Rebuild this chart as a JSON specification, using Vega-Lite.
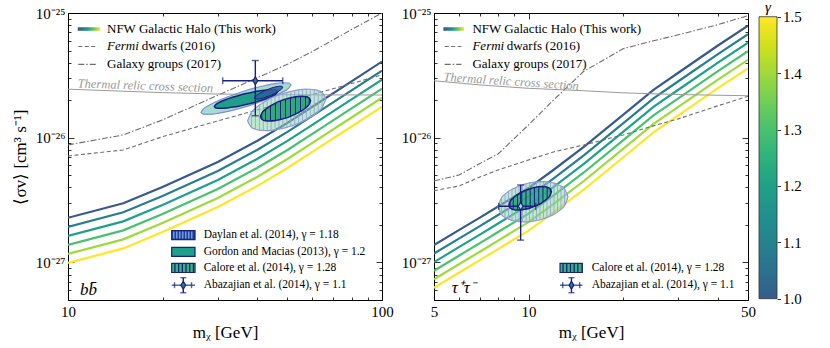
{
"$schema": "https://vega.github.io/schema/vega-lite/v6.json",
"padding": {"left": 11, "top": 0, "right": 2, "bottom": 2},
"background": "white",
"config": {
  "font": "Liberation Serif",
  "view": {"stroke": null},
  "axis": {"grid": false, "domainColor": "#000", "domainWidth": 1, "tickColor": "#000", "tickWidth": 0.8, "labelColor": "#000", "labelFont": "Liberation Serif", "labelFontSize": 15, "titleFont": "Liberation Serif", "titleFontSize": 17, "titleFontWeight": "normal", "titleColor": "#000", "labelFlush": false, "labelOverlap": false}
},
"datasets": {
  "linesL": [
    {"m":10,"sv":2.28e-27,"g":1.0},{"m":15,"sv":2.98e-27,"g":1.0},{"m":20,"sv":4.03e-27,"g":1.0},{"m":30,"sv":6.40e-27,"g":1.0},{"m":40,"sv":9.42e-27,"g":1.0},{"m":50,"sv":1.315e-26,"g":1.0},{"m":60,"sv":1.77e-26,"g":1.0},{"m":80,"sv":2.83e-26,"g":1.0},{"m":100,"sv":4.08e-26,"g":1.0},
    {"m":10,"sv":1.930e-27,"g":1.1},{"m":15,"sv":2.523e-27,"g":1.1},{"m":20,"sv":3.412e-27,"g":1.1},{"m":30,"sv":5.418e-27,"g":1.1},{"m":40,"sv":7.975e-27,"g":1.1},{"m":50,"sv":1.113e-26,"g":1.1},{"m":60,"sv":1.498e-26,"g":1.1},{"m":80,"sv":2.396e-26,"g":1.1},{"m":100,"sv":3.454e-26,"g":1.1},
    {"m":10,"sv":1.634e-27,"g":1.2},{"m":15,"sv":2.136e-27,"g":1.2},{"m":20,"sv":2.888e-27,"g":1.2},{"m":30,"sv":4.587e-27,"g":1.2},{"m":40,"sv":6.751e-27,"g":1.2},{"m":50,"sv":9.425e-27,"g":1.2},{"m":60,"sv":1.269e-26,"g":1.2},{"m":80,"sv":2.028e-26,"g":1.2},{"m":100,"sv":2.924e-26,"g":1.2},
    {"m":10,"sv":1.383e-27,"g":1.3},{"m":15,"sv":1.808e-27,"g":1.3},{"m":20,"sv":2.445e-27,"g":1.3},{"m":30,"sv":3.883e-27,"g":1.3},{"m":40,"sv":5.715e-27,"g":1.3},{"m":50,"sv":7.978e-27,"g":1.3},{"m":60,"sv":1.074e-26,"g":1.3},{"m":80,"sv":1.717e-26,"g":1.3},{"m":100,"sv":2.475e-26,"g":1.3},
    {"m":10,"sv":1.171e-27,"g":1.4},{"m":15,"sv":1.531e-27,"g":1.4},{"m":20,"sv":2.070e-27,"g":1.4},{"m":30,"sv":3.287e-27,"g":1.4},{"m":40,"sv":4.838e-27,"g":1.4},{"m":50,"sv":6.754e-27,"g":1.4},{"m":60,"sv":9.091e-27,"g":1.4},{"m":80,"sv":1.453e-26,"g":1.4},{"m":100,"sv":2.095e-26,"g":1.4},
    {"m":10,"sv":9.91e-28,"g":1.5},{"m":15,"sv":1.296e-27,"g":1.5},{"m":20,"sv":1.752e-27,"g":1.5},{"m":30,"sv":2.783e-27,"g":1.5},{"m":40,"sv":4.096e-27,"g":1.5},{"m":50,"sv":5.718e-27,"g":1.5},{"m":60,"sv":7.696e-27,"g":1.5},{"m":80,"sv":1.230e-26,"g":1.5},{"m":100,"sv":1.774e-26,"g":1.5}
  ],
  "linesR": [
    {"m":5,"sv":1.377e-27,"g":1.0},{"m":6,"sv":1.817e-27,"g":1.0},{"m":7,"sv":2.29e-27,"g":1.0},{"m":8,"sv":2.81e-27,"g":1.0},{"m":10,"sv":3.95e-27,"g":1.0},{"m":12,"sv":5.51e-27,"g":1.0},{"m":15,"sv":8.44e-27,"g":1.0},{"m":20,"sv":1.525e-26,"g":1.0},{"m":25,"sv":2.42e-26,"g":1.0},{"m":30,"sv":3.32e-26,"g":1.0},{"m":40,"sv":5.46e-26,"g":1.0},{"m":50,"sv":7.91e-26,"g":1.0},
    {"m":5,"sv":1.177e-27,"g":1.1},{"m":6,"sv":1.552e-27,"g":1.1},{"m":7,"sv":1.957e-27,"g":1.1},{"m":8,"sv":2.401e-27,"g":1.1},{"m":10,"sv":3.375e-27,"g":1.1},{"m":12,"sv":4.708e-27,"g":1.1},{"m":15,"sv":7.211e-27,"g":1.1},{"m":20,"sv":1.303e-26,"g":1.1},{"m":25,"sv":2.068e-26,"g":1.1},{"m":30,"sv":2.837e-26,"g":1.1},{"m":40,"sv":4.665e-26,"g":1.1},{"m":50,"sv":6.758e-26,"g":1.1},
    {"m":5,"sv":1.005e-27,"g":1.2},{"m":6,"sv":1.326e-27,"g":1.2},{"m":7,"sv":1.672e-27,"g":1.2},{"m":8,"sv":2.051e-27,"g":1.2},{"m":10,"sv":2.884e-27,"g":1.2},{"m":12,"sv":4.022e-27,"g":1.2},{"m":15,"sv":6.161e-27,"g":1.2},{"m":20,"sv":1.113e-26,"g":1.2},{"m":25,"sv":1.767e-26,"g":1.2},{"m":30,"sv":2.424e-26,"g":1.2},{"m":40,"sv":3.986e-26,"g":1.2},{"m":50,"sv":5.774e-26,"g":1.2},
    {"m":5,"sv":8.59e-28,"g":1.3},{"m":6,"sv":1.133e-27,"g":1.3},{"m":7,"sv":1.428e-27,"g":1.3},{"m":8,"sv":1.753e-27,"g":1.3},{"m":10,"sv":2.464e-27,"g":1.3},{"m":12,"sv":3.437e-27,"g":1.3},{"m":15,"sv":5.264e-27,"g":1.3},{"m":20,"sv":9.511e-27,"g":1.3},{"m":25,"sv":1.509e-26,"g":1.3},{"m":30,"sv":2.071e-26,"g":1.3},{"m":40,"sv":3.405e-26,"g":1.3},{"m":50,"sv":4.933e-26,"g":1.3},
    {"m":5,"sv":7.34e-28,"g":1.4},{"m":6,"sv":9.68e-28,"g":1.4},{"m":7,"sv":1.220e-27,"g":1.4},{"m":8,"sv":1.497e-27,"g":1.4},{"m":10,"sv":2.105e-27,"g":1.4},{"m":12,"sv":2.936e-27,"g":1.4},{"m":15,"sv":4.498e-27,"g":1.4},{"m":20,"sv":8.127e-27,"g":1.4},{"m":25,"sv":1.290e-26,"g":1.4},{"m":30,"sv":1.769e-26,"g":1.4},{"m":40,"sv":2.910e-26,"g":1.4},{"m":50,"sv":4.215e-26,"g":1.4},
    {"m":5,"sv":6.27e-28,"g":1.5},{"m":6,"sv":8.27e-28,"g":1.5},{"m":7,"sv":1.043e-27,"g":1.5},{"m":8,"sv":1.279e-27,"g":1.5},{"m":10,"sv":1.798e-27,"g":1.5},{"m":12,"sv":2.509e-27,"g":1.5},{"m":15,"sv":3.843e-27,"g":1.5},{"m":20,"sv":6.943e-27,"g":1.5},{"m":25,"sv":1.102e-26,"g":1.5},{"m":30,"sv":1.512e-26,"g":1.5},{"m":40,"sv":2.486e-26,"g":1.5},{"m":50,"sv":3.601e-26,"g":1.5}
  ],
  "refL": [
    {"c":"fermi","m":10,"sv":7.14e-27},{"c":"fermi","m":15,"sv":7.98e-27},{"c":"fermi","m":20,"sv":1.019e-26},{"c":"fermi","m":30,"sv":1.365e-26},{"c":"fermi","m":40,"sv":1.67e-26},{"c":"fermi","m":50,"sv":1.95e-26},{"c":"fermi","m":60,"sv":2.22e-26},{"c":"fermi","m":80,"sv":2.72e-26},{"c":"fermi","m":100,"sv":3.19e-26},
    {"c":"gg","m":10,"sv":8.75e-27},{"c":"gg","m":15,"sv":1.053e-26},{"c":"gg","m":20,"sv":1.39e-26},{"c":"gg","m":30,"sv":2.19e-26},{"c":"gg","m":40,"sv":3.02e-26},{"c":"gg","m":50,"sv":3.88e-26},{"c":"gg","m":60,"sv":4.91e-26},{"c":"gg","m":80,"sv":7.37e-26},{"c":"gg","m":100,"sv":1.0e-25},
    {"c":"th","m":10,"sv":2.45e-26},{"c":"th","m":15,"sv":2.36e-26},{"c":"th","m":20,"sv":2.30e-26},{"c":"th","m":30,"sv":2.24e-26},{"c":"th","m":50,"sv":2.21e-26},{"c":"th","m":100,"sv":2.20e-26}
  ],
  "refR": [
    {"c":"fermi","m":5,"sv":3.76e-27},{"c":"fermi","m":6,"sv":4.10e-27},{"c":"fermi","m":7,"sv":4.84e-27},{"c":"fermi","m":8,"sv":5.51e-27},{"c":"fermi","m":10,"sv":6.64e-27},{"c":"fermi","m":12,"sv":7.69e-27},{"c":"fermi","m":15,"sv":8.75e-27},{"c":"fermi","m":20,"sv":1.053e-26},{"c":"fermi","m":25,"sv":1.245e-26},{"c":"fermi","m":30,"sv":1.416e-26},{"c":"fermi","m":40,"sv":1.80e-26},{"c":"fermi","m":50,"sv":2.15e-26},
    {"c":"gg","m":5,"sv":4.50e-27},{"c":"gg","m":6,"sv":5.02e-27},{"c":"gg","m":7,"sv":6.21e-27},{"c":"gg","m":8,"sv":7.41e-27},{"c":"gg","m":10,"sv":1.268e-26},{"c":"gg","m":12,"sv":2.00e-26},{"c":"gg","m":15,"sv":3.41e-26},{"c":"gg","m":20,"sv":5.17e-26},{"c":"gg","m":25,"sv":5.99e-26},{"c":"gg","m":30,"sv":6.69e-26},{"c":"gg","m":40,"sv":8.05e-26},{"c":"gg","m":50,"sv":9.51e-26},
    {"c":"th","m":5,"sv":2.86e-26},{"c":"th","m":7,"sv":2.65e-26},{"c":"th","m":10,"sv":2.49e-26},{"c":"th","m":15,"sv":2.38e-26},{"c":"th","m":20,"sv":2.29e-26},{"c":"th","m":30,"sv":2.22e-26},{"c":"th","m":50,"sv":2.17e-26}
  ],
  "ellL": [
    {"e":"CO","m":37.33,"hi":1.3642e-26,"lo":1.3642e-26},{"e":"CO","m":38.42,"hi":1.6032e-26,"lo":1.2092e-26},{"e":"CO","m":39.54,"hi":1.7254e-26,"lo":1.1701e-26},{"e":"CO","m":40.69,"hi":1.8272e-26,"lo":1.1508e-26},{"e":"CO","m":41.88,"hi":1.9173e-26,"lo":1.1423e-26},{"e":"CO","m":43.10,"hi":1.9989e-26,"lo":1.1411e-26},{"e":"CO","m":44.36,"hi":2.0736e-26,"lo":1.1457e-26},{"e":"CO","m":45.65,"hi":2.1420e-26,"lo":1.1552e-26},{"e":"CO","m":46.98,"hi":2.2044e-26,"lo":1.1691e-26},{"e":"CO","m":48.35,"hi":2.2607e-26,"lo":1.1873e-26},{"e":"CO","m":49.76,"hi":2.3110e-26,"lo":1.2097e-26},{"e":"CO","m":51.21,"hi":2.3547e-26,"lo":1.2366e-26},{"e":"CO","m":52.70,"hi":2.3913e-26,"lo":1.2682e-26},{"e":"CO","m":54.24,"hi":2.4201e-26,"lo":1.3052e-26},{"e":"CO","m":55.82,"hi":2.4401e-26,"lo":1.3481e-26},{"e":"CO","m":57.45,"hi":2.4498e-26,"lo":1.3986e-26},{"e":"CO","m":59.13,"hi":2.4473e-26,"lo":1.4582e-26},{"e":"CO","m":60.85,"hi":2.4292e-26,"lo":1.5300e-26},{"e":"CO","m":62.63,"hi":2.3893e-26,"lo":1.6202e-26},{"e":"CO","m":64.45,"hi":2.3119e-26,"lo":1.7437e-26},{"e":"CO","m":66.33,"hi":2.0492e-26,"lo":2.0492e-26},
    {"e":"CI","m":41.03,"hi":1.4757e-26,"lo":1.4757e-26},{"e":"CI","m":41.40,"hi":1.5705e-26,"lo":1.4073e-26},{"e":"CI","m":42.56,"hi":1.6889e-26,"lo":1.3679e-26},{"e":"CI","m":44.14,"hi":1.8019e-26,"lo":1.3602e-26},{"e":"CI","m":45.80,"hi":1.8944e-26,"lo":1.3729e-26},{"e":"CI","m":47.51,"hi":1.9731e-26,"lo":1.3984e-26},{"e":"CI","m":49.28,"hi":2.0397e-26,"lo":1.4354e-26},{"e":"CI","m":51.12,"hi":2.0936e-26,"lo":1.4838e-26},{"e":"CI","m":53.03,"hi":2.1324e-26,"lo":1.5454e-26},{"e":"CI","m":55.01,"hi":2.1521e-26,"lo":1.6248e-26},{"e":"CI","m":57.07,"hi":2.1401e-26,"lo":1.7332e-26},{"e":"CI","m":58.66,"hi":2.0802e-26,"lo":1.8641e-26},{"e":"CI","m":59.20,"hi":1.9837e-26,"lo":1.9837e-26},
    {"e":"GO","m":26.52,"hi":1.5998e-26,"lo":1.5998e-26},{"e":"GO","m":26.96,"hi":1.6966e-26,"lo":1.5470e-26},{"e":"GO","m":28.33,"hi":1.8390e-26,"lo":1.5400e-26},{"e":"GO","m":30.26,"hi":1.9928e-26,"lo":1.5728e-26},{"e":"GO","m":32.33,"hi":2.1329e-26,"lo":1.6261e-26},{"e":"GO","m":34.53,"hi":2.2648e-26,"lo":1.6948e-26},{"e":"GO","m":36.89,"hi":2.3895e-26,"lo":1.7776e-26},{"e":"GO","m":39.41,"hi":2.5064e-26,"lo":1.8755e-26},{"e":"GO","m":42.10,"hi":2.6121e-26,"lo":1.9916e-26},{"e":"GO","m":44.97,"hi":2.7007e-26,"lo":2.1315e-26},{"e":"GO","m":48.03,"hi":2.7582e-26,"lo":2.3098e-26},{"e":"GO","m":50.47,"hi":2.7457e-26,"lo":2.5035e-26},{"e":"GO","m":51.31,"hi":2.6554e-26,"lo":2.6554e-26},
    {"e":"GI","m":29.24,"hi":1.7776e-26,"lo":1.7776e-26},{"e":"GI","m":29.58,"hi":1.8476e-26,"lo":1.7339e-26},{"e":"GI","m":30.63,"hi":1.9426e-26,"lo":1.7194e-26},{"e":"GI","m":32.09,"hi":2.0383e-26,"lo":1.7320e-26},{"e":"GI","m":33.61,"hi":2.1206e-26,"lo":1.7598e-26},{"e":"GI","m":35.21,"hi":2.1943e-26,"lo":1.7978e-26},{"e":"GI","m":36.89,"hi":2.2607e-26,"lo":1.8445e-26},{"e":"GI","m":38.65,"hi":2.3195e-26,"lo":1.9003e-26},{"e":"GI","m":40.48,"hi":2.3693e-26,"lo":1.9664e-26},{"e":"GI","m":42.41,"hi":2.4073e-26,"lo":2.0457e-26},{"e":"GI","m":44.43,"hi":2.4253e-26,"lo":2.1466e-26},{"e":"GI","m":46.01,"hi":2.4049e-26,"lo":2.2568e-26},{"e":"GI","m":46.54,"hi":2.3459e-26,"lo":2.3459e-26},
    {"e":"D","m":39.21,"hi":2.0762e-26,"lo":2.0762e-26},{"e":"D","m":39.41,"hi":2.1293e-26,"lo":2.0450e-26},{"e":"D","m":40.03,"hi":2.2029e-26,"lo":2.0381e-26},{"e":"D","m":40.87,"hi":2.2774e-26,"lo":2.0532e-26},{"e":"D","m":41.73,"hi":2.3417e-26,"lo":2.0797e-26},{"e":"D","m":42.61,"hi":2.3996e-26,"lo":2.1137e-26},{"e":"D","m":43.51,"hi":2.4523e-26,"lo":2.1544e-26},{"e":"D","m":44.42,"hi":2.4994e-26,"lo":2.2015e-26},{"e":"D","m":45.36,"hi":2.5403e-26,"lo":2.2560e-26},{"e":"D","m":46.32,"hi":2.5730e-26,"lo":2.3199e-26},{"e":"D","m":47.29,"hi":2.5922e-26,"lo":2.3983e-26},{"e":"D","m":48.03,"hi":2.5835e-26,"lo":2.4810e-26},{"e":"D","m":48.28,"hi":2.5447e-26,"lo":2.5447e-26}
  ],
  "ellR": [
    {"e":"CO","m":7.994,"hi":2.7962e-27,"lo":2.7962e-27},{"e":"CO","m":8.202,"hi":3.2998e-27,"lo":2.4137e-27},{"e":"CO","m":8.416,"hi":3.5326e-27,"lo":2.2966e-27},{"e":"CO","m":8.635,"hi":3.7144e-27,"lo":2.2248e-27},{"e":"CO","m":8.859,"hi":3.8660e-27,"lo":2.1776e-27},{"e":"CO","m":9.089,"hi":3.9957e-27,"lo":2.1463e-27},{"e":"CO","m":9.326,"hi":4.1064e-27,"lo":2.1273e-27},{"e":"CO","m":9.568,"hi":4.2006e-27,"lo":2.1184e-27},{"e":"CO","m":9.817,"hi":4.2791e-27,"lo":2.1184e-27},{"e":"CO","m":10.072,"hi":4.3426e-27,"lo":2.1264e-27},{"e":"CO","m":10.334,"hi":4.3907e-27,"lo":2.1423e-27},{"e":"CO","m":10.603,"hi":4.4238e-27,"lo":2.1662e-27},{"e":"CO","m":10.878,"hi":4.4404e-27,"lo":2.1981e-27},{"e":"CO","m":11.161,"hi":4.4404e-27,"lo":2.2392e-27},{"e":"CO","m":11.451,"hi":4.4220e-27,"lo":2.2907e-27},{"e":"CO","m":11.749,"hi":4.3827e-27,"lo":2.3542e-27},{"e":"CO","m":12.055,"hi":4.3196e-27,"lo":2.4330e-27},{"e":"CO","m":12.368,"hi":4.2279e-27,"lo":2.5324e-27},{"e":"CO","m":12.690,"hi":4.0957e-27,"lo":2.6628e-27},{"e":"CO","m":13.020,"hi":3.8972e-27,"lo":2.8505e-27},{"e":"CO","m":13.358,"hi":3.3642e-27,"lo":3.3642e-27},
    {"e":"CI","m":8.666,"hi":2.8852e-27,"lo":2.8852e-27},{"e":"CI","m":8.734,"hi":3.0687e-27,"lo":2.7467e-27},{"e":"CI","m":8.940,"hi":3.2902e-27,"lo":2.6585e-27},{"e":"CI","m":9.222,"hi":3.4946e-27,"lo":2.6304e-27},{"e":"CI","m":9.514,"hi":3.6573e-27,"lo":2.6412e-27},{"e":"CI","m":9.814,"hi":3.7915e-27,"lo":2.6775e-27},{"e":"CI","m":10.124,"hi":3.9006e-27,"lo":2.7346e-27},{"e":"CI","m":10.444,"hi":3.9842e-27,"lo":2.8133e-27},{"e":"CI","m":10.774,"hi":4.0384e-27,"lo":2.9165e-27},{"e":"CI","m":11.114,"hi":4.0551e-27,"lo":3.0521e-27},{"e":"CI","m":11.464,"hi":4.0120e-27,"lo":3.2418e-27},{"e":"CI","m":11.736,"hi":3.8836e-27,"lo":3.4760e-27},{"e":"CI","m":11.827,"hi":3.6968e-27,"lo":3.6968e-27}
  ],
  "abzL": [{"m":39.5,"mlo":31.1,"mhi":48.3,"sv":2.86e-26,"svlo":1.50e-26,"svhi":4.16e-26}],
  "abzR": [{"m":9.44,"mlo":8.04,"mhi":10.54,"sv":2.82e-27,"svlo":1.51e-27,"svhi":4.18e-27}]
},
"hconcat": [
{
"hconcat": [
{
  "width": 314, "height": 287,
  "resolve": {"axis": {"x": "independent", "y": "independent"}},
  "layer": [
    {"data": {"name": "linesL"}, "mark": {"type": "line", "strokeWidth": 2.2, "clip": true},
     "encoding": {
       "x": {"field": "m", "type": "quantitative", "scale": {"type": "log", "domain": [10, 100], "nice": false},
             "axis": {"orient": "bottom", "values": [10,20,30,40,50,60,70,80,90,100], "labelExpr": "datum.value == 10 ? '10' : datum.value == 100 ? '100' : ''", "tickSize": {"condition": {"test": "datum.value == 10 || datum.value == 100", "value": -6}, "value": -3}, "labelPadding": 10, "title": "mᵪ [GeV]", "titlePadding": 2}},
       "y": {"field": "sv", "type": "quantitative", "scale": {"type": "log", "domain": [5e-28, 1e-25], "nice": false},
             "axis": {"orient": "left", "values": [5e-28,6e-28,7e-28,8e-28,9e-28,1e-27,2e-27,3e-27,4e-27,5e-27,6e-27,7e-27,8e-27,9e-27,1e-26,2e-26,3e-26,4e-26,5e-26,6e-26,7e-26,8e-26,9e-26,1e-25], "labelExpr": "abs(log(datum.value)/LN10 + 25) < 0.001 ? '10⁻²⁵' : abs(log(datum.value)/LN10 + 26) < 0.001 ? '10⁻²⁶' : abs(log(datum.value)/LN10 + 27) < 0.001 ? '10⁻²⁷' : ''", "tickSize": {"condition": {"test": "abs(log(datum.value)/LN10 - round(log(datum.value)/LN10)) < 0.001", "value": -6}, "value": -3}, "labelPadding": 9, "title": "⟨σv⟩ [cm³ s⁻¹]", "titlePadding": 6}},
       "color": {"field": "g", "type": "quantitative", "scale": {"domain": [1, 1.5], "scheme": {"name": "viridis", "extent": [0.28, 1]}}, "legend": null},
       "detail": {"field": "g", "type": "nominal"}
     }},
    {"data": {"name": "refL"}, "transform": [{"filter": "datum.c == 'fermi'"}],
     "mark": {"type": "line", "stroke": "#6e6e6e", "strokeWidth": 1.1, "strokeDash": [4, 2.5], "clip": true},
     "encoding": {
       "x": {"field": "m", "type": "quantitative", "scale": {"type": "log", "domain": [10, 100], "nice": false},
             "axis": {"orient": "top", "values": [10,20,30,40,50,60,70,80,90,100], "labels": false, "title": null, "tickSize": {"condition": {"test": "datum.value == 10 || datum.value == 100", "value": -6}, "value": -3}}},
       "y": {"field": "sv", "type": "quantitative", "scale": {"type": "log", "domain": [5e-28, 1e-25], "nice": false},
             "axis": {"orient": "right", "values": [5e-28,6e-28,7e-28,8e-28,9e-28,1e-27,2e-27,3e-27,4e-27,5e-27,6e-27,7e-27,8e-27,9e-27,1e-26,2e-26,3e-26,4e-26,5e-26,6e-26,7e-26,8e-26,9e-26,1e-25], "labels": false, "title": null, "tickSize": {"condition": {"test": "abs(log(datum.value)/LN10 - round(log(datum.value)/LN10)) < 0.001", "value": -6}, "value": -3}}}
     }},
    {"data": {"name": "refL"}, "transform": [{"filter": "datum.c == 'gg'"}],
     "mark": {"type": "line", "stroke": "#6e6e6e", "strokeWidth": 1.1, "strokeDash": [6, 2, 1.5, 2], "clip": true},
     "encoding": {
       "x": {"field": "m", "type": "quantitative", "scale": {"type": "log", "domain": [10, 100], "nice": false}, "axis": null},
       "y": {"field": "sv", "type": "quantitative", "scale": {"type": "log", "domain": [5e-28, 1e-25], "nice": false}, "axis": null}
     }},
    {"data": {"name": "refL"}, "transform": [{"filter": "datum.c == 'th'"}],
     "mark": {"type": "line", "stroke": "#9a9a9a", "strokeWidth": 1, "clip": true},
     "encoding": {
       "x": {"field": "m", "type": "quantitative", "scale": {"type": "log", "domain": [10, 100], "nice": false}, "axis": null},
       "y": {"field": "sv", "type": "quantitative", "scale": {"type": "log", "domain": [5e-28, 1e-25], "nice": false}, "axis": null}
     }},
    {"data": {"values": [{}]},
     "mark": {"type": "text", "text": "Thermal relic cross section", "fontStyle": "italic", "fontSize": 12.5, "color": "#999999", "angle": 2, "align": "center", "baseline": "middle"},
     "encoding": {
       "x": {"datum": 17.65, "type": "quantitative", "scale": {"type": "log", "domain": [10, 100], "nice": false}, "axis": null},
       "y": {"datum": 2.61e-26, "type": "quantitative", "scale": {"type": "log", "domain": [5e-28, 1e-25], "nice": false}, "axis": null}
     }},
    {"data": {"name": "ellL"}, "transform": [{"filter": "datum.e == 'GO'"}],
     "mark": {"type": "area", "interpolate": "monotone", "fill": "#5dbfa5", "fillOpacity": 0.55, "stroke": "#7d8fd6", "strokeWidth": 1.2},
     "encoding": {
       "x": {"field": "m", "type": "quantitative", "scale": {"type": "log", "domain": [10, 100], "nice": false}, "axis": null},
       "y": {"field": "hi", "type": "quantitative", "scale": {"type": "log", "domain": [5e-28, 1e-25], "nice": false}, "axis": null},
       "y2": {"field": "lo"}
     }},
    {"data": {"name": "ellL"}, "transform": [{"filter": "datum.e == 'GI'"}],
     "mark": {"type": "area", "interpolate": "monotone", "fill": "#1f9e89", "fillOpacity": 1, "stroke": "#1a2080", "strokeWidth": 1.5},
     "encoding": {
       "x": {"field": "m", "type": "quantitative", "scale": {"type": "log", "domain": [10, 100], "nice": false}, "axis": null},
       "y": {"field": "hi", "type": "quantitative", "scale": {"type": "log", "domain": [5e-28, 1e-25], "nice": false}, "axis": null},
       "y2": {"field": "lo"}
     }},
    {"data": {"name": "ellL"}, "transform": [{"filter": "datum.e == 'D'"}],
     "mark": {"type": "area", "interpolate": "monotone", "fill": "#2d5a9e", "fillOpacity": 0.85, "stroke": "#1a2080", "strokeWidth": 1},
     "encoding": {
       "x": {"field": "m", "type": "quantitative", "scale": {"type": "log", "domain": [10, 100], "nice": false}, "axis": null},
       "y": {"field": "hi", "type": "quantitative", "scale": {"type": "log", "domain": [5e-28, 1e-25], "nice": false}, "axis": null},
       "y2": {"field": "lo"}
     }},
    {"data": {"name": "ellL"}, "transform": [{"filter": "datum.e == 'CO'"}],
     "mark": {"type": "area", "interpolate": "monotone", "fill": "#7fd19a", "fillOpacity": 0.5, "stroke": "#8e98d8", "strokeWidth": 1.2},
     "encoding": {
       "x": {"field": "m", "type": "quantitative", "scale": {"type": "log", "domain": [10, 100], "nice": false}, "axis": null},
       "y": {"field": "hi", "type": "quantitative", "scale": {"type": "log", "domain": [5e-28, 1e-25], "nice": false}, "axis": null},
       "y2": {"field": "lo"}
     }},
    {"data": {"name": "ellL"}, "transform": [{"filter": "datum.e == 'CO'"}],
     "mark": {"type": "rule", "stroke": "#97a3dc", "strokeWidth": 0.9},
     "encoding": {
       "x": {"field": "m", "type": "quantitative", "scale": {"type": "log", "domain": [10, 100], "nice": false}, "axis": null},
       "y": {"field": "hi", "type": "quantitative", "scale": {"type": "log", "domain": [5e-28, 1e-25], "nice": false}, "axis": null},
       "y2": {"field": "lo"}
     }},
    {"data": {"name": "ellL"}, "transform": [{"filter": "datum.e == 'CI'"}],
     "mark": {"type": "area", "interpolate": "monotone", "fill": "#27a67b", "fillOpacity": 0.95, "stroke": "#1a2080", "strokeWidth": 1.5},
     "encoding": {
       "x": {"field": "m", "type": "quantitative", "scale": {"type": "log", "domain": [10, 100], "nice": false}, "axis": null},
       "y": {"field": "hi", "type": "quantitative", "scale": {"type": "log", "domain": [5e-28, 1e-25], "nice": false}, "axis": null},
       "y2": {"field": "lo"}
     }},
    {"data": {"name": "ellL"}, "transform": [{"filter": "datum.e == 'CI'"}],
     "mark": {"type": "rule", "stroke": "#1a2080", "strokeWidth": 1},
     "encoding": {
       "x": {"field": "m", "type": "quantitative", "scale": {"type": "log", "domain": [10, 100], "nice": false}, "axis": null},
       "y": {"field": "hi", "type": "quantitative", "scale": {"type": "log", "domain": [5e-28, 1e-25], "nice": false}, "axis": null},
       "y2": {"field": "lo"}
     }},
    {"data": {"name": "abzL"},
     "mark": {"type": "rule", "stroke": "#1a2080", "strokeWidth": 1.4},
     "encoding": {
       "x": {"field": "mlo", "type": "quantitative", "scale": {"type": "log", "domain": [10, 100], "nice": false}, "axis": null},
       "x2": {"field": "mhi"},
       "y": {"field": "sv", "type": "quantitative", "scale": {"type": "log", "domain": [5e-28, 1e-25], "nice": false}, "axis": null}
     }},
    {"data": {"name": "abzL"},
     "mark": {"type": "rule", "stroke": "#1a2080", "strokeWidth": 1.4},
     "encoding": {
       "x": {"field": "m", "type": "quantitative", "scale": {"type": "log", "domain": [10, 100], "nice": false}, "axis": null},
       "y": {"field": "svlo", "type": "quantitative", "scale": {"type": "log", "domain": [5e-28, 1e-25], "nice": false}, "axis": null},
       "y2": {"field": "svhi"}
     }},
    {"data": {"name": "abzL"},
     "mark": {"type": "tick", "orient": "vertical", "color": "#1a2080", "size": 7, "thickness": 1.4},
     "encoding": {
       "x": {"field": "mlo", "type": "quantitative", "scale": {"type": "log", "domain": [10, 100], "nice": false}, "axis": null},
       "y": {"field": "sv", "type": "quantitative", "scale": {"type": "log", "domain": [5e-28, 1e-25], "nice": false}, "axis": null}
     }},
    {"data": {"name": "abzL"},
     "mark": {"type": "tick", "orient": "vertical", "color": "#1a2080", "size": 7, "thickness": 1.4},
     "encoding": {
       "x": {"field": "mhi", "type": "quantitative", "scale": {"type": "log", "domain": [10, 100], "nice": false}, "axis": null},
       "y": {"field": "sv", "type": "quantitative", "scale": {"type": "log", "domain": [5e-28, 1e-25], "nice": false}, "axis": null}
     }},
    {"data": {"name": "abzL"},
     "mark": {"type": "tick", "orient": "horizontal", "color": "#1a2080", "size": 7, "thickness": 1.4},
     "encoding": {
       "x": {"field": "m", "type": "quantitative", "scale": {"type": "log", "domain": [10, 100], "nice": false}, "axis": null},
       "y": {"field": "svlo", "type": "quantitative", "scale": {"type": "log", "domain": [5e-28, 1e-25], "nice": false}, "axis": null}
     }},
    {"data": {"name": "abzL"},
     "mark": {"type": "tick", "orient": "horizontal", "color": "#1a2080", "size": 7, "thickness": 1.4},
     "encoding": {
       "x": {"field": "m", "type": "quantitative", "scale": {"type": "log", "domain": [10, 100], "nice": false}, "axis": null},
       "y": {"field": "svhi", "type": "quantitative", "scale": {"type": "log", "domain": [5e-28, 1e-25], "nice": false}, "axis": null}
     }},
    {"data": {"name": "abzL"},
     "mark": {"type": "point", "shape": "M0,-1L0.62,0L0,1L-0.62,0Z", "size": 60, "filled": true, "fill": "#2a788e", "stroke": "#1a2080", "strokeWidth": 1.2, "opacity": 1},
     "encoding": {
       "x": {"field": "m", "type": "quantitative", "scale": {"type": "log", "domain": [10, 100], "nice": false}, "axis": null},
       "y": {"field": "sv", "type": "quantitative", "scale": {"type": "log", "domain": [5e-28, 1e-25], "nice": false}, "axis": null}
     }},
    {"data": {"values": [{}]},
     "mark": {"type": "rect", "fill": {"gradient": "linear", "x1": 0, "y1": 0, "x2": 1, "y2": 0, "stops": [{"offset": 0, "color": "#38588c"}, {"offset": 0.4, "color": "#21918c"}, {"offset": 0.7, "color": "#5ec962"}, {"offset": 1, "color": "#fde725"}]}},
     "encoding": {
       "x": {"datum": 10.74, "type": "quantitative", "scale": {"type": "log", "domain": [10, 100], "nice": false}, "axis": null},
       "x2": {"datum": 12.67},
       "y": {"datum": 7.69e-26, "type": "quantitative", "scale": {"type": "log", "domain": [5e-28, 1e-25], "nice": false}, "axis": null},
       "y2": {"datum": 7.20e-26}
     }},
    {"data": {"values": [{}]},
     "mark": {"type": "text", "text": "NFW Galactic Halo (This work)", "fontSize": 13, "align": "left", "baseline": "middle", "color": "#000"},
     "encoding": {
       "x": {"datum": 13.31, "type": "quantitative", "scale": {"type": "log", "domain": [10, 100], "nice": false}, "axis": null},
       "y": {"datum": 7.44e-26, "type": "quantitative", "scale": {"type": "log", "domain": [5e-28, 1e-25], "nice": false}, "axis": null}
     }},
    {"data": {"values": [{}]},
     "mark": {"type": "rule", "stroke": "#6e6e6e", "strokeWidth": 1.1, "strokeDash": [4, 2.5]},
     "encoding": {
       "x": {"datum": 10.78, "type": "quantitative", "scale": {"type": "log", "domain": [10, 100], "nice": false}, "axis": null},
       "x2": {"datum": 12.43},
       "y": {"datum": 5.39e-26, "type": "quantitative", "scale": {"type": "log", "domain": [5e-28, 1e-25], "nice": false}, "axis": null}
     }},
    {"data": {"values": [{}]},
     "mark": {"type": "text", "text": "Fermi", "fontStyle": "italic", "fontSize": 13, "align": "left", "baseline": "middle", "color": "#000"},
     "encoding": {
       "x": {"datum": 13.31, "type": "quantitative", "scale": {"type": "log", "domain": [10, 100], "nice": false}, "axis": null},
       "y": {"datum": 5.39e-26, "type": "quantitative", "scale": {"type": "log", "domain": [5e-28, 1e-25], "nice": false}, "axis": null}
     }},
    {"data": {"values": [{}]},
     "mark": {"type": "text", "text": "dwarfs (2016)", "fontSize": 13, "align": "left", "baseline": "middle", "color": "#000"},
     "encoding": {
       "x": {"datum": 17.17, "type": "quantitative", "scale": {"type": "log", "domain": [10, 100], "nice": false}, "axis": null},
       "y": {"datum": 5.39e-26, "type": "quantitative", "scale": {"type": "log", "domain": [5e-28, 1e-25], "nice": false}, "axis": null}
     }},
    {"data": {"values": [{}]},
     "mark": {"type": "rule", "stroke": "#6e6e6e", "strokeWidth": 1.1, "strokeDash": [6, 2, 1.5, 2]},
     "encoding": {
       "x": {"datum": 10.78, "type": "quantitative", "scale": {"type": "log", "domain": [10, 100], "nice": false}, "axis": null},
       "x2": {"datum": 12.43},
       "y": {"datum": 3.87e-26, "type": "quantitative", "scale": {"type": "log", "domain": [5e-28, 1e-25], "nice": false}, "axis": null}
     }},
    {"data": {"values": [{}]},
     "mark": {"type": "text", "text": "Galaxy groups (2017)", "fontSize": 13, "align": "left", "baseline": "middle", "color": "#000"},
     "encoding": {
       "x": {"datum": 13.31, "type": "quantitative", "scale": {"type": "log", "domain": [10, 100], "nice": false}, "axis": null},
       "y": {"datum": 3.87e-26, "type": "quantitative", "scale": {"type": "log", "domain": [5e-28, 1e-25], "nice": false}, "axis": null}
     }},
    {"data": {"values": [{}]},
     "mark": {"type": "rect", "fill": "#233d96", "stroke": "#1a2080", "strokeWidth": 1.2},
     "encoding": {
       "x": {"datum": 21.39, "type": "quantitative", "scale": {"type": "log", "domain": [10, 100], "nice": false}, "axis": null},
       "x2": {"datum": 25.38},
       "y": {"datum": 1.80e-27, "type": "quantitative", "scale": {"type": "log", "domain": [5e-28, 1e-25], "nice": false}, "axis": null},
       "y2": {"datum": 1.524e-27}
     }},
    {"data": {"values": [{}]},
     "mark": {"type": "rule", "stroke": "#6f9fe0", "strokeWidth": 7, "strokeDash": [1.5, 1.5]},
     "encoding": {
       "x": {"datum": 21.6, "type": "quantitative", "scale": {"type": "log", "domain": [10, 100], "nice": false}, "axis": null},
       "x2": {"datum": 25.1},
       "y": {"datum": 1.657e-27, "type": "quantitative", "scale": {"type": "log", "domain": [5e-28, 1e-25], "nice": false}, "axis": null}
     }},
    {"data": {"values": [{}]},
     "mark": {"type": "rect", "fill": "#1f9e89", "stroke": "#1a2080", "strokeWidth": 1.2},
     "encoding": {
       "x": {"datum": 21.39, "type": "quantitative", "scale": {"type": "log", "domain": [10, 100], "nice": false}, "axis": null},
       "x2": {"datum": 25.38},
       "y": {"datum": 1.322e-27, "type": "quantitative", "scale": {"type": "log", "domain": [5e-28, 1e-25], "nice": false}, "axis": null},
       "y2": {"datum": 1.119e-27}
     }},
    {"data": {"values": [{}]},
     "mark": {"type": "rect", "fill": "#35b779", "stroke": "#1a2080", "strokeWidth": 1.2},
     "encoding": {
       "x": {"datum": 21.39, "type": "quantitative", "scale": {"type": "log", "domain": [10, 100], "nice": false}, "axis": null},
       "x2": {"datum": 25.38},
       "y": {"datum": 9.82e-28, "type": "quantitative", "scale": {"type": "log", "domain": [5e-28, 1e-25], "nice": false}, "axis": null},
       "y2": {"datum": 8.31e-28}
     }},
    {"data": {"values": [{}]},
     "mark": {"type": "rule", "stroke": "#1a2080", "strokeWidth": 8, "strokeDash": [1.3, 2.4]},
     "encoding": {
       "x": {"datum": 21.8, "type": "quantitative", "scale": {"type": "log", "domain": [10, 100], "nice": false}, "axis": null},
       "x2": {"datum": 25.2},
       "y": {"datum": 9.03e-28, "type": "quantitative", "scale": {"type": "log", "domain": [5e-28, 1e-25], "nice": false}, "axis": null}
     }},
    {"data": {"values": [{}]},
     "mark": {"type": "rule", "stroke": "#2f62a8", "strokeWidth": 1.4},
     "encoding": {
       "x": {"datum": 21.39, "type": "quantitative", "scale": {"type": "log", "domain": [10, 100], "nice": false}, "axis": null},
       "x2": {"datum": 25.38},
       "y": {"datum": 6.57e-28, "type": "quantitative", "scale": {"type": "log", "domain": [5e-28, 1e-25], "nice": false}, "axis": null}
     }},
    {"data": {"values": [{}]},
     "mark": {"type": "rule", "stroke": "#1a2080", "strokeWidth": 1.4},
     "encoding": {
       "x": {"datum": 23.29, "type": "quantitative", "scale": {"type": "log", "domain": [10, 100], "nice": false}, "axis": null},
       "y": {"datum": 5.72e-28, "type": "quantitative", "scale": {"type": "log", "domain": [5e-28, 1e-25], "nice": false}, "axis": null},
       "y2": {"datum": 7.55e-28}
     }},
    {"data": {"values": [{}]},
     "mark": {"type": "tick", "orient": "horizontal", "color": "#1a2080", "size": 6, "thickness": 1.4},
     "encoding": {
       "x": {"datum": 23.29, "type": "quantitative", "scale": {"type": "log", "domain": [10, 100], "nice": false}, "axis": null},
       "y": {"datum": 5.72e-28, "type": "quantitative", "scale": {"type": "log", "domain": [5e-28, 1e-25], "nice": false}, "axis": null}
     }},
    {"data": {"values": [{}]},
     "mark": {"type": "tick", "orient": "horizontal", "color": "#1a2080", "size": 6, "thickness": 1.4},
     "encoding": {
       "x": {"datum": 23.29, "type": "quantitative", "scale": {"type": "log", "domain": [10, 100], "nice": false}, "axis": null},
       "y": {"datum": 7.55e-28, "type": "quantitative", "scale": {"type": "log", "domain": [5e-28, 1e-25], "nice": false}, "axis": null}
     }},
    {"data": {"values": [{}]},
     "mark": {"type": "tick", "orient": "vertical", "color": "#1a2080", "size": 6, "thickness": 1.4},
     "encoding": {
       "x": {"datum": 21.84, "type": "quantitative", "scale": {"type": "log", "domain": [10, 100], "nice": false}, "axis": null},
       "y": {"datum": 6.57e-28, "type": "quantitative", "scale": {"type": "log", "domain": [5e-28, 1e-25], "nice": false}, "axis": null}
     }},
    {"data": {"values": [{}]},
     "mark": {"type": "tick", "orient": "vertical", "color": "#1a2080", "size": 6, "thickness": 1.4},
     "encoding": {
       "x": {"datum": 24.74, "type": "quantitative", "scale": {"type": "log", "domain": [10, 100], "nice": false}, "axis": null},
       "y": {"datum": 6.57e-28, "type": "quantitative", "scale": {"type": "log", "domain": [5e-28, 1e-25], "nice": false}, "axis": null}
     }},
    {"data": {"values": [{}]},
     "mark": {"type": "point", "shape": "M0,-1L0.62,0L0,1L-0.62,0Z", "size": 60, "filled": true, "fill": "#2a788e", "stroke": "#1a2080", "strokeWidth": 1.2, "opacity": 1},
     "encoding": {
       "x": {"datum": 23.29, "type": "quantitative", "scale": {"type": "log", "domain": [10, 100], "nice": false}, "axis": null},
       "y": {"datum": 6.57e-28, "type": "quantitative", "scale": {"type": "log", "domain": [5e-28, 1e-25], "nice": false}, "axis": null}
     }},
    {"data": {"values": [{}]},
     "mark": {"type": "text", "text": "Daylan et al. (2014), γ = 1.18", "fontSize": 11.5, "align": "left", "baseline": "middle", "color": "#000"},
     "encoding": {
       "x": {"datum": 27.05, "type": "quantitative", "scale": {"type": "log", "domain": [10, 100], "nice": false}, "axis": null},
       "y": {"datum": 1.657e-27, "type": "quantitative", "scale": {"type": "log", "domain": [5e-28, 1e-25], "nice": false}, "axis": null}
     }},
    {"data": {"values": [{}]},
     "mark": {"type": "text", "text": "Gordon and Macias (2013), γ = 1.2", "fontSize": 11.5, "align": "left", "baseline": "middle", "color": "#000"},
     "encoding": {
       "x": {"datum": 27.05, "type": "quantitative", "scale": {"type": "log", "domain": [10, 100], "nice": false}, "axis": null},
       "y": {"datum": 1.216e-27, "type": "quantitative", "scale": {"type": "log", "domain": [5e-28, 1e-25], "nice": false}, "axis": null}
     }},
    {"data": {"values": [{}]},
     "mark": {"type": "text", "text": "Calore et al. (2014), γ = 1.28", "fontSize": 11.5, "align": "left", "baseline": "middle", "color": "#000"},
     "encoding": {
       "x": {"datum": 27.05, "type": "quantitative", "scale": {"type": "log", "domain": [10, 100], "nice": false}, "axis": null},
       "y": {"datum": 9.03e-28, "type": "quantitative", "scale": {"type": "log", "domain": [5e-28, 1e-25], "nice": false}, "axis": null}
     }},
    {"data": {"values": [{}]},
     "mark": {"type": "text", "text": "Abazajian et al. (2014), γ = 1.1", "fontSize": 11.5, "align": "left", "baseline": "middle", "color": "#000"},
     "encoding": {
       "x": {"datum": 27.05, "type": "quantitative", "scale": {"type": "log", "domain": [10, 100], "nice": false}, "axis": null},
       "y": {"datum": 6.57e-28, "type": "quantitative", "scale": {"type": "log", "domain": [5e-28, 1e-25], "nice": false}, "axis": null}
     }},
    {"data": {"values": [{}]},
     "mark": {"type": "text", "text": "bb̄", "fontStyle": "italic", "fontSize": 17, "align": "center", "baseline": "middle", "color": "#000"},
     "encoding": {
       "x": {"datum": 11.62, "type": "quantitative", "scale": {"type": "log", "domain": [10, 100], "nice": false}, "axis": null},
       "y": {"datum": 5.99e-28, "type": "quantitative", "scale": {"type": "log", "domain": [5e-28, 1e-25], "nice": false}, "axis": null}
     }}
  ]
},
{
  "width": 314, "height": 287,
  "resolve": {"axis": {"x": "independent", "y": "independent"}},
  "layer": [
    {"data": {"name": "linesR"}, "mark": {"type": "line", "strokeWidth": 2.2, "clip": true},
     "encoding": {
       "x": {"field": "m", "type": "quantitative", "scale": {"type": "log", "domain": [5, 50], "nice": false},
             "axis": {"orient": "bottom", "values": [5,6,7,8,9,10,20,30,40,50], "labelExpr": "datum.value == 5 ? '5' : datum.value == 10 ? '10' : datum.value == 50 ? '50' : ''", "tickSize": {"condition": {"test": "datum.value == 5 || datum.value == 10 || datum.value == 50", "value": -6}, "value": -3}, "labelPadding": 10, "title": "mᵪ [GeV]", "titlePadding": 2}},
       "y": {"field": "sv", "type": "quantitative", "scale": {"type": "log", "domain": [5e-28, 1e-25], "nice": false},
             "axis": {"orient": "left", "values": [5e-28,6e-28,7e-28,8e-28,9e-28,1e-27,2e-27,3e-27,4e-27,5e-27,6e-27,7e-27,8e-27,9e-27,1e-26,2e-26,3e-26,4e-26,5e-26,6e-26,7e-26,8e-26,9e-26,1e-25], "labelExpr": "abs(log(datum.value)/LN10 + 25) < 0.001 ? '10⁻²⁵' : abs(log(datum.value)/LN10 + 26) < 0.001 ? '10⁻²⁶' : abs(log(datum.value)/LN10 + 27) < 0.001 ? '10⁻²⁷' : ''", "tickSize": {"condition": {"test": "abs(log(datum.value)/LN10 - round(log(datum.value)/LN10)) < 0.001", "value": -6}, "value": -3}, "labelPadding": 9, "title": null}},
       "color": {"field": "g", "type": "quantitative", "scale": {"domain": [1, 1.5], "scheme": {"name": "viridis", "extent": [0.28, 1]}}, "legend": null},
       "detail": {"field": "g", "type": "nominal"}
     }},
    {"data": {"name": "refR"}, "transform": [{"filter": "datum.c == 'fermi'"}],
     "mark": {"type": "line", "stroke": "#6e6e6e", "strokeWidth": 1.1, "strokeDash": [4, 2.5], "clip": true},
     "encoding": {
       "x": {"field": "m", "type": "quantitative", "scale": {"type": "log", "domain": [5, 50], "nice": false},
             "axis": {"orient": "top", "values": [5,6,7,8,9,10,20,30,40,50], "labels": false, "title": null, "tickSize": {"condition": {"test": "datum.value == 5 || datum.value == 10 || datum.value == 50", "value": -6}, "value": -3}}},
       "y": {"field": "sv", "type": "quantitative", "scale": {"type": "log", "domain": [5e-28, 1e-25], "nice": false},
             "axis": {"orient": "right", "values": [5e-28,6e-28,7e-28,8e-28,9e-28,1e-27,2e-27,3e-27,4e-27,5e-27,6e-27,7e-27,8e-27,9e-27,1e-26,2e-26,3e-26,4e-26,5e-26,6e-26,7e-26,8e-26,9e-26,1e-25], "labels": false, "title": null, "tickSize": {"condition": {"test": "abs(log(datum.value)/LN10 - round(log(datum.value)/LN10)) < 0.001", "value": -6}, "value": -3}}}
     }},
    {"data": {"name": "refR"}, "transform": [{"filter": "datum.c == 'gg'"}],
     "mark": {"type": "line", "stroke": "#6e6e6e", "strokeWidth": 1.1, "strokeDash": [6, 2, 1.5, 2], "clip": true},
     "encoding": {
       "x": {"field": "m", "type": "quantitative", "scale": {"type": "log", "domain": [5, 50], "nice": false}, "axis": null},
       "y": {"field": "sv", "type": "quantitative", "scale": {"type": "log", "domain": [5e-28, 1e-25], "nice": false}, "axis": null}
     }},
    {"data": {"name": "refR"}, "transform": [{"filter": "datum.c == 'th'"}],
     "mark": {"type": "line", "stroke": "#9a9a9a", "strokeWidth": 1, "clip": true},
     "encoding": {
       "x": {"field": "m", "type": "quantitative", "scale": {"type": "log", "domain": [5, 50], "nice": false}, "axis": null},
       "y": {"field": "sv", "type": "quantitative", "scale": {"type": "log", "domain": [5e-28, 1e-25], "nice": false}, "axis": null}
     }},
    {"data": {"values": [{}]},
     "mark": {"type": "text", "text": "Thermal relic cross section", "fontStyle": "italic", "fontSize": 12.5, "color": "#999999", "angle": 3.8, "align": "center", "baseline": "middle"},
     "encoding": {
       "x": {"datum": 8.81, "type": "quantitative", "scale": {"type": "log", "domain": [5, 50], "nice": false}, "axis": null},
       "y": {"datum": 2.833e-26, "type": "quantitative", "scale": {"type": "log", "domain": [5e-28, 1e-25], "nice": false}, "axis": null}
     }},
    {"data": {"name": "ellR"}, "transform": [{"filter": "datum.e == 'CO'"}],
     "mark": {"type": "area", "interpolate": "monotone", "fill": "#7fd19a", "fillOpacity": 0.5, "stroke": "#8e98d8", "strokeWidth": 1.2},
     "encoding": {
       "x": {"field": "m", "type": "quantitative", "scale": {"type": "log", "domain": [5, 50], "nice": false}, "axis": null},
       "y": {"field": "hi", "type": "quantitative", "scale": {"type": "log", "domain": [5e-28, 1e-25], "nice": false}, "axis": null},
       "y2": {"field": "lo"}
     }},
    {"data": {"name": "ellR"}, "transform": [{"filter": "datum.e == 'CO'"}],
     "mark": {"type": "rule", "stroke": "#97a3dc", "strokeWidth": 0.9},
     "encoding": {
       "x": {"field": "m", "type": "quantitative", "scale": {"type": "log", "domain": [5, 50], "nice": false}, "axis": null},
       "y": {"field": "hi", "type": "quantitative", "scale": {"type": "log", "domain": [5e-28, 1e-25], "nice": false}, "axis": null},
       "y2": {"field": "lo"}
     }},
    {"data": {"name": "ellR"}, "transform": [{"filter": "datum.e == 'CI'"}],
     "mark": {"type": "area", "interpolate": "monotone", "fill": "#27a67b", "fillOpacity": 0.85, "stroke": "#1a2080", "strokeWidth": 1.5},
     "encoding": {
       "x": {"field": "m", "type": "quantitative", "scale": {"type": "log", "domain": [5, 50], "nice": false}, "axis": null},
       "y": {"field": "hi", "type": "quantitative", "scale": {"type": "log", "domain": [5e-28, 1e-25], "nice": false}, "axis": null},
       "y2": {"field": "lo"}
     }},
    {"data": {"name": "ellR"}, "transform": [{"filter": "datum.e == 'CI'"}],
     "mark": {"type": "rule", "stroke": "#1a2080", "strokeWidth": 1},
     "encoding": {
       "x": {"field": "m", "type": "quantitative", "scale": {"type": "log", "domain": [5, 50], "nice": false}, "axis": null},
       "y": {"field": "hi", "type": "quantitative", "scale": {"type": "log", "domain": [5e-28, 1e-25], "nice": false}, "axis": null},
       "y2": {"field": "lo"}
     }},
    {"data": {"name": "abzR"},
     "mark": {"type": "rule", "stroke": "#1a2080", "strokeWidth": 1.4},
     "encoding": {
       "x": {"field": "mlo", "type": "quantitative", "scale": {"type": "log", "domain": [5, 50], "nice": false}, "axis": null},
       "x2": {"field": "mhi"},
       "y": {"field": "sv", "type": "quantitative", "scale": {"type": "log", "domain": [5e-28, 1e-25], "nice": false}, "axis": null}
     }},
    {"data": {"name": "abzR"},
     "mark": {"type": "rule", "stroke": "#1a2080", "strokeWidth": 1.4},
     "encoding": {
       "x": {"field": "m", "type": "quantitative", "scale": {"type": "log", "domain": [5, 50], "nice": false}, "axis": null},
       "y": {"field": "svlo", "type": "quantitative", "scale": {"type": "log", "domain": [5e-28, 1e-25], "nice": false}, "axis": null},
       "y2": {"field": "svhi"}
     }},
    {"data": {"name": "abzR"},
     "mark": {"type": "tick", "orient": "vertical", "color": "#1a2080", "size": 7, "thickness": 1.4},
     "encoding": {
       "x": {"field": "mlo", "type": "quantitative", "scale": {"type": "log", "domain": [5, 50], "nice": false}, "axis": null},
       "y": {"field": "sv", "type": "quantitative", "scale": {"type": "log", "domain": [5e-28, 1e-25], "nice": false}, "axis": null}
     }},
    {"data": {"name": "abzR"},
     "mark": {"type": "tick", "orient": "vertical", "color": "#1a2080", "size": 7, "thickness": 1.4},
     "encoding": {
       "x": {"field": "mhi", "type": "quantitative", "scale": {"type": "log", "domain": [5, 50], "nice": false}, "axis": null},
       "y": {"field": "sv", "type": "quantitative", "scale": {"type": "log", "domain": [5e-28, 1e-25], "nice": false}, "axis": null}
     }},
    {"data": {"name": "abzR"},
     "mark": {"type": "tick", "orient": "horizontal", "color": "#1a2080", "size": 7, "thickness": 1.4},
     "encoding": {
       "x": {"field": "m", "type": "quantitative", "scale": {"type": "log", "domain": [5, 50], "nice": false}, "axis": null},
       "y": {"field": "svlo", "type": "quantitative", "scale": {"type": "log", "domain": [5e-28, 1e-25], "nice": false}, "axis": null}
     }},
    {"data": {"name": "abzR"},
     "mark": {"type": "tick", "orient": "horizontal", "color": "#1a2080", "size": 7, "thickness": 1.4},
     "encoding": {
       "x": {"field": "m", "type": "quantitative", "scale": {"type": "log", "domain": [5, 50], "nice": false}, "axis": null},
       "y": {"field": "svhi", "type": "quantitative", "scale": {"type": "log", "domain": [5e-28, 1e-25], "nice": false}, "axis": null}
     }},
    {"data": {"name": "abzR"},
     "mark": {"type": "point", "shape": "M0,-1L0.62,0L0,1L-0.62,0Z", "size": 60, "filled": true, "fill": "#a9dcc4", "stroke": "#1a2080", "strokeWidth": 1.2, "opacity": 1},
     "encoding": {
       "x": {"field": "m", "type": "quantitative", "scale": {"type": "log", "domain": [5, 50], "nice": false}, "axis": null},
       "y": {"field": "sv", "type": "quantitative", "scale": {"type": "log", "domain": [5e-28, 1e-25], "nice": false}, "axis": null}
     }},
    {"data": {"values": [{}]},
     "mark": {"type": "rect", "fill": {"gradient": "linear", "x1": 0, "y1": 0, "x2": 1, "y2": 0, "stops": [{"offset": 0, "color": "#38588c"}, {"offset": 0.4, "color": "#21918c"}, {"offset": 0.7, "color": "#5ec962"}, {"offset": 1, "color": "#fde725"}]}},
     "encoding": {
       "x": {"datum": 5.357, "type": "quantitative", "scale": {"type": "log", "domain": [5, 50], "nice": false}, "axis": null},
       "x2": {"datum": 6.231},
       "y": {"datum": 7.69e-26, "type": "quantitative", "scale": {"type": "log", "domain": [5e-28, 1e-25], "nice": false}, "axis": null},
       "y2": {"datum": 7.20e-26}
     }},
    {"data": {"values": [{}]},
     "mark": {"type": "text", "text": "NFW Galactic Halo (This work)", "fontSize": 13, "align": "left", "baseline": "middle", "color": "#000"},
     "encoding": {
       "x": {"datum": 6.627, "type": "quantitative", "scale": {"type": "log", "domain": [5, 50], "nice": false}, "axis": null},
       "y": {"datum": 7.44e-26, "type": "quantitative", "scale": {"type": "log", "domain": [5e-28, 1e-25], "nice": false}, "axis": null}
     }},
    {"data": {"values": [{}]},
     "mark": {"type": "rule", "stroke": "#6e6e6e", "strokeWidth": 1.1, "strokeDash": [4, 2.5]},
     "encoding": {
       "x": {"datum": 5.408, "type": "quantitative", "scale": {"type": "log", "domain": [5, 50], "nice": false}, "axis": null},
       "x2": {"datum": 6.113},
       "y": {"datum": 5.39e-26, "type": "quantitative", "scale": {"type": "log", "domain": [5e-28, 1e-25], "nice": false}, "axis": null}
     }},
    {"data": {"values": [{}]},
     "mark": {"type": "text", "text": "Fermi", "fontStyle": "italic", "fontSize": 13, "align": "left", "baseline": "middle", "color": "#000"},
     "encoding": {
       "x": {"datum": 6.627, "type": "quantitative", "scale": {"type": "log", "domain": [5, 50], "nice": false}, "axis": null},
       "y": {"datum": 5.39e-26, "type": "quantitative", "scale": {"type": "log", "domain": [5e-28, 1e-25], "nice": false}, "axis": null}
     }},
    {"data": {"values": [{}]},
     "mark": {"type": "text", "text": "dwarfs (2016)", "fontSize": 13, "align": "left", "baseline": "middle", "color": "#000"},
     "encoding": {
       "x": {"datum": 8.521, "type": "quantitative", "scale": {"type": "log", "domain": [5, 50], "nice": false}, "axis": null},
       "y": {"datum": 5.39e-26, "type": "quantitative", "scale": {"type": "log", "domain": [5e-28, 1e-25], "nice": false}, "axis": null}
     }},
    {"data": {"values": [{}]},
     "mark": {"type": "rule", "stroke": "#6e6e6e", "strokeWidth": 1.1, "strokeDash": [6, 2, 1.5, 2]},
     "encoding": {
       "x": {"datum": 5.408, "type": "quantitative", "scale": {"type": "log", "domain": [5, 50], "nice": false}, "axis": null},
       "x2": {"datum": 6.113},
       "y": {"datum": 3.87e-26, "type": "quantitative", "scale": {"type": "log", "domain": [5e-28, 1e-25], "nice": false}, "axis": null}
     }},
    {"data": {"values": [{}]},
     "mark": {"type": "text", "text": "Galaxy groups (2017)", "fontSize": 13, "align": "left", "baseline": "middle", "color": "#000"},
     "encoding": {
       "x": {"datum": 6.627, "type": "quantitative", "scale": {"type": "log", "domain": [5, 50], "nice": false}, "axis": null},
       "y": {"datum": 3.87e-26, "type": "quantitative", "scale": {"type": "log", "domain": [5e-28, 1e-25], "nice": false}, "axis": null}
     }},
    {"data": {"values": [{}]},
     "mark": {"type": "rect", "fill": "#35b779", "stroke": "#1a2080", "strokeWidth": 1.2},
     "encoding": {
       "x": {"datum": 12.60, "type": "quantitative", "scale": {"type": "log", "domain": [5, 50], "nice": false}, "axis": null},
       "x2": {"datum": 14.84},
       "y": {"datum": 9.82e-28, "type": "quantitative", "scale": {"type": "log", "domain": [5e-28, 1e-25], "nice": false}, "axis": null},
       "y2": {"datum": 8.31e-28}
     }},
    {"data": {"values": [{}]},
     "mark": {"type": "rule", "stroke": "#1a2080", "strokeWidth": 8, "strokeDash": [1.3, 2.4]},
     "encoding": {
       "x": {"datum": 12.82, "type": "quantitative", "scale": {"type": "log", "domain": [5, 50], "nice": false}, "axis": null},
       "x2": {"datum": 14.74},
       "y": {"datum": 9.03e-28, "type": "quantitative", "scale": {"type": "log", "domain": [5e-28, 1e-25], "nice": false}, "axis": null}
     }},
    {"data": {"values": [{}]},
     "mark": {"type": "rule", "stroke": "#2f62a8", "strokeWidth": 1.4},
     "encoding": {
       "x": {"datum": 12.60, "type": "quantitative", "scale": {"type": "log", "domain": [5, 50], "nice": false}, "axis": null},
       "x2": {"datum": 14.84},
       "y": {"datum": 6.57e-28, "type": "quantitative", "scale": {"type": "log", "domain": [5e-28, 1e-25], "nice": false}, "axis": null}
     }},
    {"data": {"values": [{}]},
     "mark": {"type": "rule", "stroke": "#1a2080", "strokeWidth": 1.4},
     "encoding": {
       "x": {"datum": 13.70, "type": "quantitative", "scale": {"type": "log", "domain": [5, 50], "nice": false}, "axis": null},
       "y": {"datum": 5.72e-28, "type": "quantitative", "scale": {"type": "log", "domain": [5e-28, 1e-25], "nice": false}, "axis": null},
       "y2": {"datum": 7.55e-28}
     }},
    {"data": {"values": [{}]},
     "mark": {"type": "tick", "orient": "horizontal", "color": "#1a2080", "size": 6, "thickness": 1.4},
     "encoding": {
       "x": {"datum": 13.70, "type": "quantitative", "scale": {"type": "log", "domain": [5, 50], "nice": false}, "axis": null},
       "y": {"datum": 5.72e-28, "type": "quantitative", "scale": {"type": "log", "domain": [5e-28, 1e-25], "nice": false}, "axis": null}
     }},
    {"data": {"values": [{}]},
     "mark": {"type": "tick", "orient": "horizontal", "color": "#1a2080", "size": 6, "thickness": 1.4},
     "encoding": {
       "x": {"datum": 13.70, "type": "quantitative", "scale": {"type": "log", "domain": [5, 50], "nice": false}, "axis": null},
       "y": {"datum": 7.55e-28, "type": "quantitative", "scale": {"type": "log", "domain": [5e-28, 1e-25], "nice": false}, "axis": null}
     }},
    {"data": {"values": [{}]},
     "mark": {"type": "tick", "orient": "vertical", "color": "#1a2080", "size": 6, "thickness": 1.4},
     "encoding": {
       "x": {"datum": 12.85, "type": "quantitative", "scale": {"type": "log", "domain": [5, 50], "nice": false}, "axis": null},
       "y": {"datum": 6.57e-28, "type": "quantitative", "scale": {"type": "log", "domain": [5e-28, 1e-25], "nice": false}, "axis": null}
     }},
    {"data": {"values": [{}]},
     "mark": {"type": "tick", "orient": "vertical", "color": "#1a2080", "size": 6, "thickness": 1.4},
     "encoding": {
       "x": {"datum": 14.55, "type": "quantitative", "scale": {"type": "log", "domain": [5, 50], "nice": false}, "axis": null},
       "y": {"datum": 6.57e-28, "type": "quantitative", "scale": {"type": "log", "domain": [5e-28, 1e-25], "nice": false}, "axis": null}
     }},
    {"data": {"values": [{}]},
     "mark": {"type": "point", "shape": "M0,-1L0.62,0L0,1L-0.62,0Z", "size": 60, "filled": true, "fill": "#2a788e", "stroke": "#1a2080", "strokeWidth": 1.2, "opacity": 1},
     "encoding": {
       "x": {"datum": 13.70, "type": "quantitative", "scale": {"type": "log", "domain": [5, 50], "nice": false}, "axis": null},
       "y": {"datum": 6.57e-28, "type": "quantitative", "scale": {"type": "log", "domain": [5e-28, 1e-25], "nice": false}, "axis": null}
     }},
    {"data": {"values": [{}]},
     "mark": {"type": "text", "text": "Calore et al. (2014), γ = 1.28", "fontSize": 11.5, "align": "left", "baseline": "middle", "color": "#000"},
     "encoding": {
       "x": {"datum": 15.89, "type": "quantitative", "scale": {"type": "log", "domain": [5, 50], "nice": false}, "axis": null},
       "y": {"datum": 9.03e-28, "type": "quantitative", "scale": {"type": "log", "domain": [5e-28, 1e-25], "nice": false}, "axis": null}
     }},
    {"data": {"values": [{}]},
     "mark": {"type": "text", "text": "Abazajian et al. (2014), γ = 1.1", "fontSize": 11.5, "align": "left", "baseline": "middle", "color": "#000"},
     "encoding": {
       "x": {"datum": 15.89, "type": "quantitative", "scale": {"type": "log", "domain": [5, 50], "nice": false}, "axis": null},
       "y": {"datum": 6.57e-28, "type": "quantitative", "scale": {"type": "log", "domain": [5e-28, 1e-25], "nice": false}, "axis": null}
     }},
    {"data": {"values": [{}]},
     "mark": {"type": "text", "text": "τ⁺τ⁻", "fontStyle": "italic", "fontSize": 17, "align": "center", "baseline": "middle", "color": "#000"},
     "encoding": {
       "x": {"datum": 6.22, "type": "quantitative", "scale": {"type": "log", "domain": [5, 50], "nice": false}, "axis": null},
       "y": {"datum": 6.22e-28, "type": "quantitative", "scale": {"type": "log", "domain": [5e-28, 1e-25], "nice": false}, "axis": null}
     }}
  ]
}
],
"spacing": 52,
"bounds": "flush"
},
{
  "width": 18, "height": 287,
  "layer": [
    {"data": {"values": [{}]},
     "mark": {"type": "rect", "stroke": "#333333", "strokeWidth": 0.8, "fill": {"gradient": "linear", "x1": 0, "y1": 1, "x2": 0, "y2": 0, "stops": [{"offset": 0, "color": "#365c8d"}, {"offset": 0.1, "color": "#2c718e"}, {"offset": 0.2, "color": "#25838e"}, {"offset": 0.3, "color": "#21908d"}, {"offset": 0.4, "color": "#1fa187"}, {"offset": 0.5, "color": "#2db27d"}, {"offset": 0.6, "color": "#48c16e"}, {"offset": 0.7, "color": "#70cf57"}, {"offset": 0.8, "color": "#a0da39"}, {"offset": 0.9, "color": "#d0e11c"}, {"offset": 1, "color": "#fde725"}]}},
     "encoding": {
       "x": {"datum": 0, "type": "quantitative", "scale": {"domain": [0, 1], "nice": false, "zero": false}, "axis": null},
       "x2": {"datum": 1},
       "y": {"datum": 1.0, "type": "quantitative", "scale": {"domain": [0.9977, 1.5066], "nice": false, "zero": false},
             "axis": {"orient": "right", "values": [1.0, 1.1, 1.2, 1.3, 1.4, 1.5], "format": ".1f", "tickSize": 3.5, "domain": false, "labelFontSize": 15, "labelPadding": 2, "title": null}},
       "y2": {"datum": 1.5}
     }},
    {"data": {"values": [{}]},
     "mark": {"type": "text", "text": "γ", "fontStyle": "italic", "fontSize": 15, "align": "center", "baseline": "middle", "color": "#000"},
     "encoding": {
       "x": {"datum": 0.5, "type": "quantitative", "scale": {"domain": [0, 1], "nice": false, "zero": false}, "axis": null},
       "y": {"datum": 1.5166, "type": "quantitative", "scale": {"domain": [0.9977, 1.5066], "nice": false, "zero": false},
             "axis": {"orient": "right", "values": [1.0, 1.1, 1.2, 1.3, 1.4, 1.5], "format": ".1f", "tickSize": 3.5, "domain": false, "labelFontSize": 15, "labelPadding": 2, "title": null}}
     }}
  ]
}
],
"spacing": 2
}
